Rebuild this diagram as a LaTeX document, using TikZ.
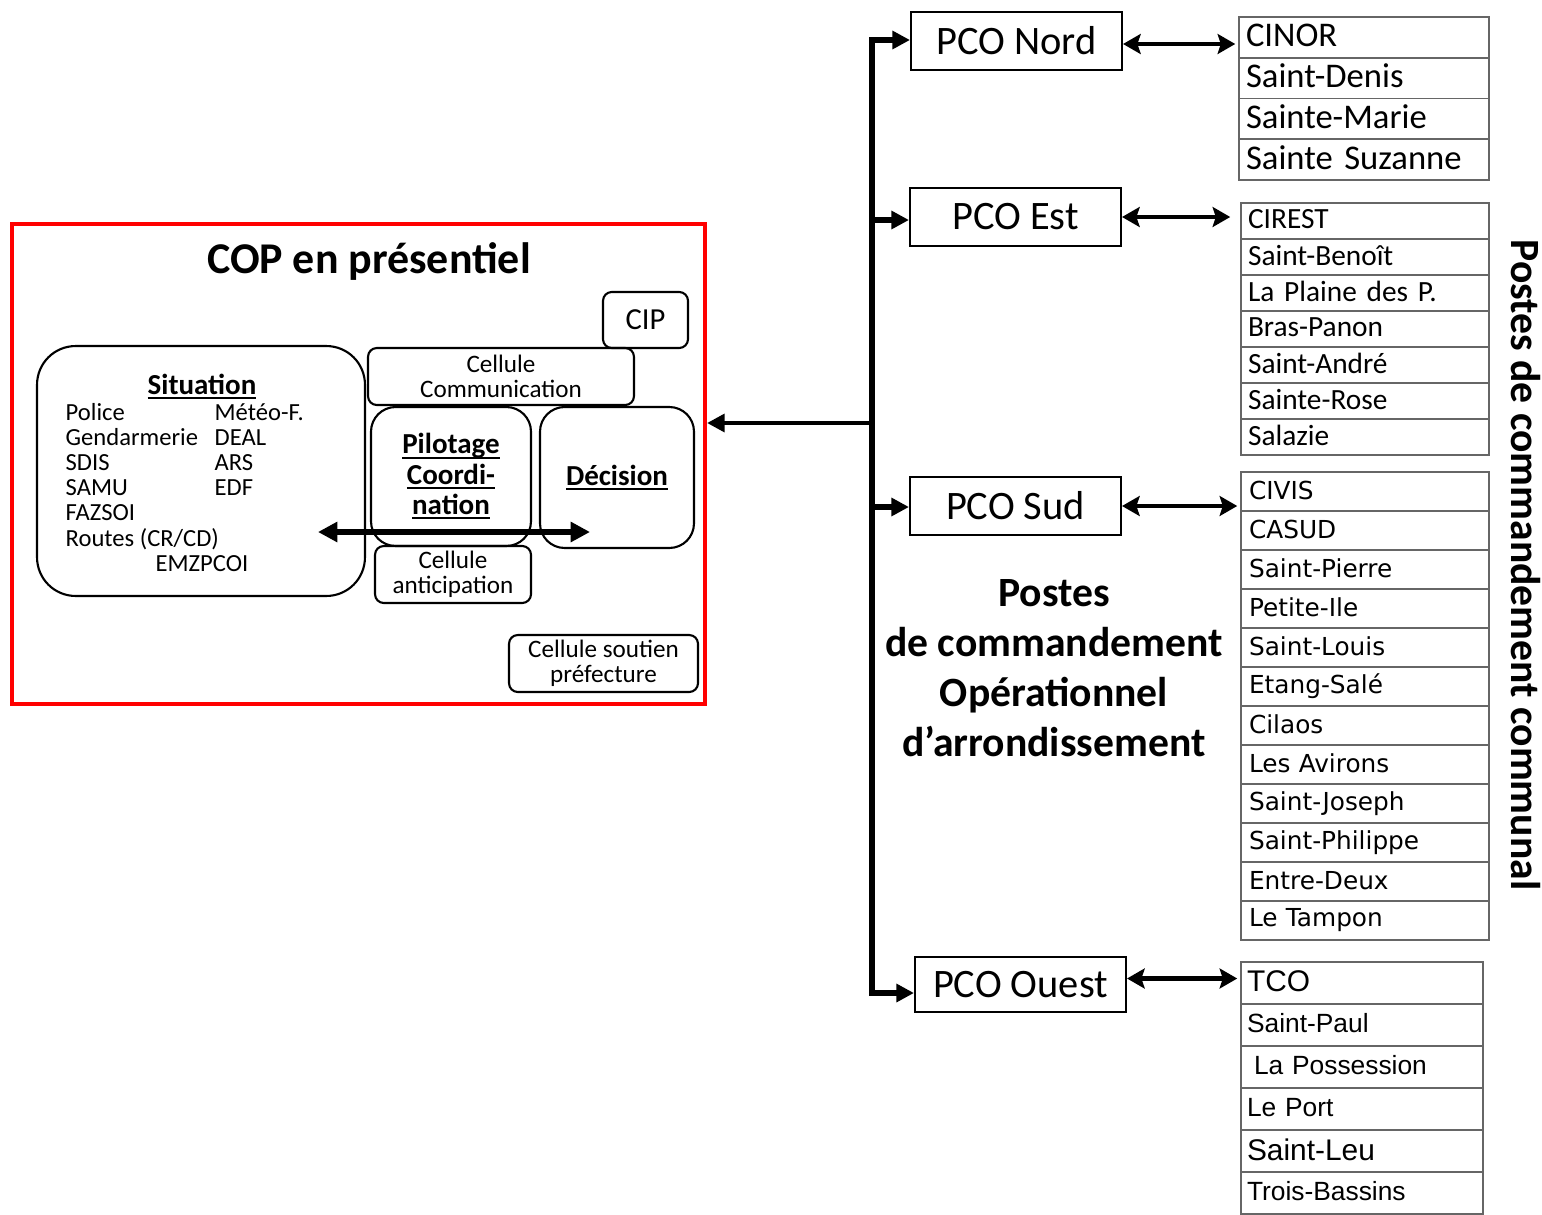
\documentclass[tikz,border=0pt]{standalone}
\usepackage{fontspec}
\setmainfont{Carlito}
\newfontfamily\dejavu{DejaVu Sans}
\newfontfamily\arialfont{Liberation Sans}
\usetikzlibrary{arrows.meta}

\newcommand{\fsz}[2]{\fontsize{#1}{#2}\selectfont}
\newcommand{\ulbold}[1]{\setbox0\hbox{#1}\rlap{\rule[-2.6pt]{\wd0}{1.1pt}}\box0}

\tikzset{
  box/.style={draw, line width=1.2pt, rounded corners=5pt, inner sep=0pt, align=center},
  pco/.style={draw, line width=1.2pt, minimum width=4.22cm, minimum height=1.16cm, inner sep=0pt, font=\fsz{23pt}{27pt}},
  cell/.style={draw=black!60, line width=0.9pt, inner xsep=0.14cm, inner ysep=0pt, align=left, execute at begin node={\rule[-0.12em]{0pt}{0.68em}}},
  item/.style={anchor=base west, inner sep=0pt, font=\fsz{14pt}{17pt}},
  trunk/.style={line width=3.6pt, -{Triangle[length=10pt,width=10pt]}},
  twoway/.style={line width=2.8pt, shorten >=0.06cm, {Stealth[length=10pt,width=11.3pt,inset=1.8pt]}-{Stealth[length=10pt,width=11.3pt,inset=1.8pt]}},
}

\begin{document}
\begin{tikzpicture}[x=0.02cm, y=-0.02cm, thick]
	\useasboundingbox (0,0) rectangle (1542,1214);
	\clip (0,0) rectangle (1542,1214);

	% cop frame
	\node[draw=red, line width=2.4pt, minimum width=13.86cm, minimum height=9.6cm, inner sep=0pt] (cop) at (358.5,464) {};
	\node[font=\bfseries\fsz{25pt}{30pt}] (coptitle) at (369,262) {COP en présentiel};

	% cells
	\node[box, minimum width=1.7cm, minimum height=1.12cm, font=\fsz{17.4pt}{20pt}] (cip) at (645.5,320) {CIP};
	\node[box, minimum width=5.32cm, minimum height=1.14cm, font=\fsz{14.3pt}{14.2pt}] (comm) at (501,376.5) {Cellule\\Communication};
	\node[box, rounded corners=22pt, minimum width=6.56cm, minimum height=5cm] (situation) at (201,471) {};
	\node[box, rounded corners=14pt, minimum width=3.2cm, minimum height=2.78cm, font=\bfseries\fsz{16.5pt}{17.3pt}] (pilotage) at (451,476.5) {\ulbold{Pilotage}\\\ulbold{Coordi-}\\\ulbold{nation}};
	\node[box, rounded corners=14pt, minimum width=3.08cm, minimum height=2.82cm, font=\bfseries\fsz{16.5pt}{20pt}] (decision) at (617,477.5) {\ulbold{Décision}};
	\node[box, minimum width=3.12cm, minimum height=1.14cm, font=\fsz{14.3pt}{14.2pt}] (anticipation) at (453,574.5) {Cellule\\anticipation};
	\node[box, minimum width=3.78cm, minimum height=1.14cm, font=\fsz{14.3pt}{14.2pt}] (soutien) at (603.5,663.5) {Cellule soutien\\préfecture};

	% situation members
	\node[font=\bfseries\fsz{16.5pt}{20pt}, anchor=base, inner sep=0pt] (sittitle) at (202,394) {\ulbold{Situation}};
	\foreach \txt [count=\i] in {Police, Gendarmerie, SDIS, SAMU, FAZSOI, Routes (CR/CD)}
	\node[item] (left\i) at (65,{420+25.2*(\i-1)}) {\txt};
	\foreach \txt [count=\i] in {Météo-F., DEAL, ARS, EDF}
	\node[item] (right\i) at (214,{420+25.2*(\i-1)}) {\txt};
	\node[item] (emz) at (155,571) {EMZPCOI};

	% exchange arrow
	\coordinate (sitend) at (318,532);
	\coordinate (decend) at (590,532);
	\draw[line width=3.4pt, {Triangle[length=11pt,width=11pt]}-{Triangle[length=11pt,width=11pt]}] (sitend) -- (decend);

	% pco boxes
	\node[pco] (pconord) at (1016.5,41) {PCO Nord};
	\node[pco] (pcoest) at (1015.5,217) {PCO Est};
	\node[pco] (pcosud) at (1015.5,506) {PCO Sud};
	\node[pco, minimum height=1.1cm] (pcoouest) at (1020.5,984.5) {PCO Ouest};

	% trunk
	\coordinate (tnord) at (872,40);
	\coordinate (test) at (872,220);
	\coordinate (tcop) at (872,423);
	\coordinate (tsud) at (872,507);
	\coordinate (touest) at (872,993);
	\draw[trunk, {Triangle[length=10pt,width=10pt]}-{Triangle[length=10pt,width=10pt]}] (tnord -| pconord.west) -- (tnord) -- (touest) -- (touest -| pcoouest.west);
	\draw[trunk] (test) -- (test -| pcoest.west);
	\draw[trunk] (tsud) -- (tsud -| pcosud.west);
	\draw[trunk, line width=2.8pt] (tcop) -- (tcop -| cop.east);

	\node[font=\bfseries\fsz{23.7pt}{28.4pt}, align=center] (pcotitle) at (1054,668) {Postes\\de commandement\\Opérationnel\\d’arrondissement};

	% communes
	\foreach \txt [count=\i] in {CINOR, Saint-Denis, Sainte-Marie, Sainte Suzanne}
	\node[cell, minimum width=5cm, text width=4.72cm, minimum height=0.815cm, font=\fsz{19.7pt}{22pt}] (nord\i) at (1364,{17+40.75*(\i-0.5)}) {\txt};
	\foreach \txt [count=\i] in {CIREST, Saint-Benoît, La Plaine des P., Bras-Panon, Saint-André, Sainte-Rose, Salazie}
	\node[cell, minimum width=4.96cm, text width=4.68cm, minimum height=0.72cm, font=\fsz{16.7pt}{19pt}] (est\i) at (1365,{203+36*(\i-0.5)}) {\txt};
	\foreach \txt [count=\i] in {CIVIS, CASUD, Saint-Pierre, Petite-Ile, Saint-Louis, Etang-Salé, Cilaos, Les Avirons, Saint-Joseph, Saint-Philippe, Entre-Deux, Le Tampon}
	\node[cell, minimum width=4.96cm, text width=4.64cm, minimum height=0.78cm, font=\dejavu\fsz{14.1pt}{17pt}, inner xsep=0.16cm] (sud\i) at (1365,{472+39*(\i-0.5)}) {\txt};
	\foreach \txt [count=\i] in {{\fsz{17pt}{20pt}TCO}, Saint-Paul, \hspace*{4pt}La Possession, Le Port, {\fsz{17pt}{20pt}Saint-Leu}, Trois-Bassins}
	\node[cell, minimum width=4.84cm, text width=4.6cm, minimum height=0.84cm, font=\arialfont\fsz{15pt}{18pt}, inner xsep=0.12cm] (ouest\i) at (1362,{962+42*(\i-0.5)}) {\txt};

	\draw[twoway] ([yshift=-0.06cm]pconord.east) -- ([yshift=-0.06cm]pconord.east -| nord1.west);
	\draw[twoway, shorten >=0.2cm] (pcoest.east) -- (pcoest.east -| est1.west);
	\draw[twoway] (pcosud.east) -- (pcosud.east -| sud1.west);
	\draw[twoway] ([yshift=0.12cm]pcoouest.east) -- ([yshift=0.12cm]pcoouest.east -| ouest1.west);

	\node[rotate=-90, font=\bfseries\fsz{23.7pt}{28pt}] (communal) at (1526,565) {Postes de commandement communal};
\end{tikzpicture}
\end{document}
